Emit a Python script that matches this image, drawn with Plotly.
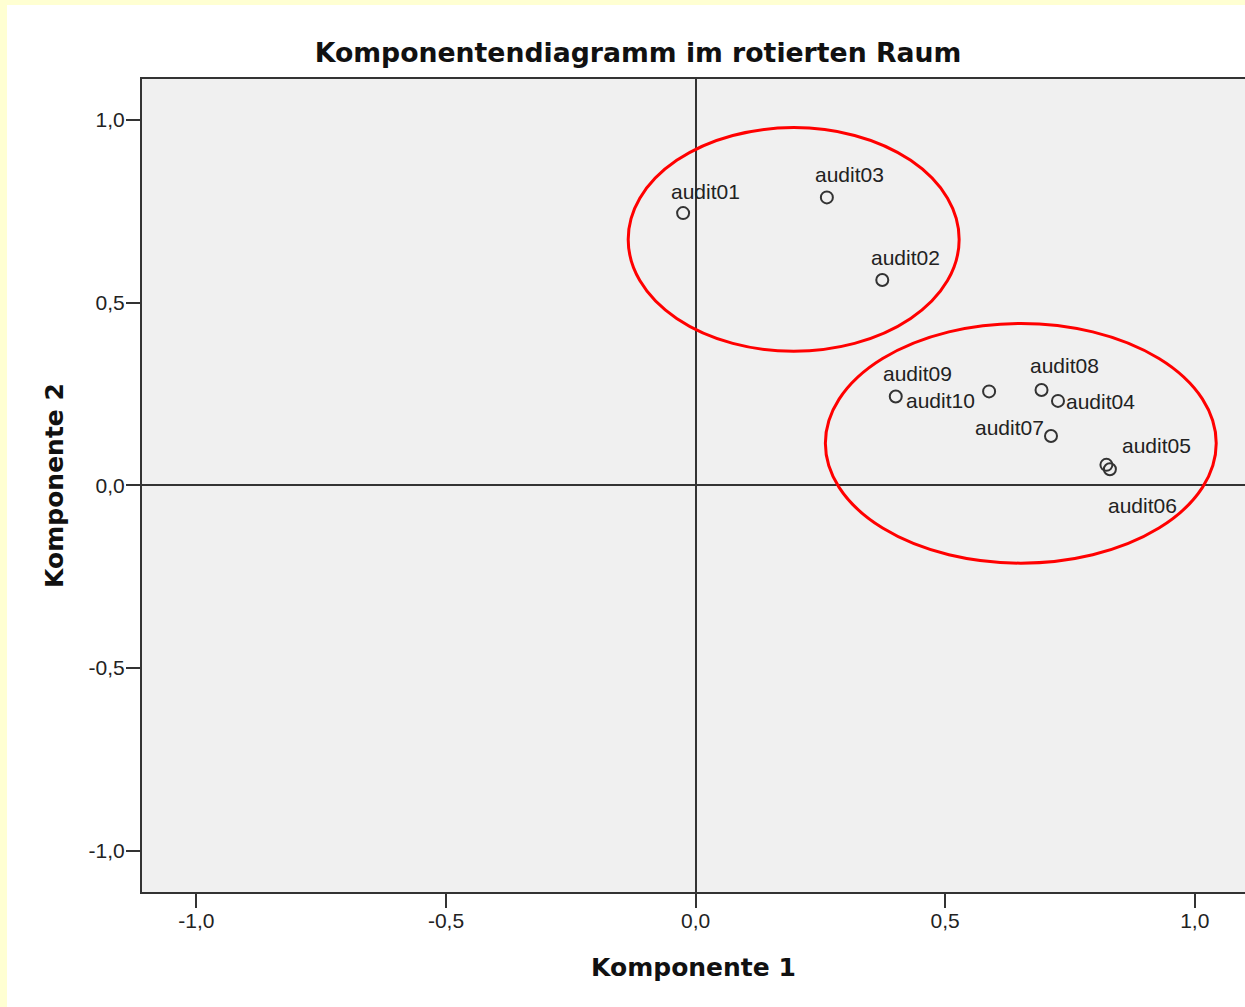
import plotly.graph_objects as go

# ---- data ----
labels = ["audit01", "audit02", "audit03", "audit04", "audit05",
          "audit06", "audit07", "audit08", "audit09", "audit10"]
komp1 = [-0.025, 0.374, 0.263, 0.726, 0.823, 0.830, 0.712, 0.693, 0.401, 0.588]
komp2 = [0.745, 0.562, 0.788, 0.231, 0.056, 0.044, 0.135, 0.261, 0.243, 0.257]
tick_vals = [-1.0, -0.5, 0.0, 0.5, 1.0]
tick_text = ["-1,0", "-0,5", "0,0", "0,5", "1,0"]

# label offsets in pixels (dx right, dy up)
label_offsets = {
    "audit01": (22, 22), "audit02": (23, 22), "audit03": (23, 23),
    "audit04": (43, -1), "audit05": (50, 19), "audit06": (33, -36),
    "audit07": (-42, 8), "audit08": (23, 24), "audit09": (22, 23),
    "audit10": (-49, -9),
}

# hand-drawn red ellipses (x0, x1, y0, y1 in data units)
ellipses = [(-0.135, 0.528, 0.367, 0.979), (0.260, 1.043, -0.213, 0.443)]

W, H = 1245, 1007
L, R, T, B = 142, 0, 79, 115
pw, ph = W - L - R, H - T - B

def px2paper_x(px):
    return (px - L) / pw

def px2paper_y(py):
    return (H - B - py) / ph

fig = go.Figure()
fig.add_trace(go.Scatter(
    x=komp1, y=komp2, mode="markers", text=labels,
    marker=dict(symbol="circle-open", size=12, color="#333333",
                line=dict(width=2, color="#333333")),
    hoverinfo="text+x+y", showlegend=False,
))

for lab, xv, yv in zip(labels, komp1, komp2):
    dx, dy = label_offsets[lab]
    fig.add_annotation(x=xv, y=yv, text=lab, showarrow=False,
                       xshift=dx, yshift=dy, xanchor="center", yanchor="middle",
                       font=dict(family="Liberation Sans, Arial", size=21, color="#222222"))

shapes = [
    # white chart area over yellow frame
    dict(type="rect", xref="paper", yref="paper", layer="below",
         x0=px2paper_x(7), x1=px2paper_x(W + 20), y0=px2paper_y(H + 20), y1=px2paper_y(5),
         fillcolor="#FFFFFF", line=dict(width=0)),
    # plot background
    dict(type="rect", xref="paper", yref="paper", layer="below",
         x0=0, x1=1, y0=0, y1=1, fillcolor="#F0F0F0", line=dict(width=0)),
]
for (x0, x1, y0, y1) in ellipses:
    shapes.append(dict(type="circle", xref="x", yref="y", x0=x0, x1=x1, y0=y0, y1=y1,
                       line=dict(color="#FF0000", width=3), layer="above"))

fig.update_layout(
    width=W, height=H,
    margin=dict(l=L, r=R, t=T, b=B, pad=0),
    paper_bgcolor="#FFFFD2",
    plot_bgcolor="rgba(0,0,0,0)",
    shapes=shapes,
    title=dict(text="Komponentendiagramm im rotierten Raum",
               x=px2paper_x(638), xref="paper", xanchor="center",
               y=1 - 53 / H, yref="container", yanchor="middle",
               font=dict(family="DejaVu Sans", size=26.7, color="#111111", weight="bold")),
    font=dict(family="Liberation Sans, Arial", color="#222222"),
)

axis_common = dict(
    showgrid=False, zeroline=True, zerolinecolor="#333333", zerolinewidth=2,
    showline=True, linecolor="#333333", linewidth=2,
    ticks="outside", ticklen=14, tickwidth=2, tickcolor="#333333",
    tickvals=tick_vals, ticktext=tick_text,
    tickfont=dict(family="Liberation Sans, Arial", size=21, color="#222222"),
)

fig.update_xaxes(range=[-1.109, (W - R - 696) / 498.8], mirror=True, ticklabelstandoff=-5,
                 **axis_common,
                 title=dict(text="Komponente 1", standoff=27,
                            font=dict(family="DejaVu Sans", size=25, color="#111111", weight="bold")))
fig.update_yaxes(range=[-1.113, 1.112], mirror=False, ticklabelstandoff=-3,
                 **axis_common,
                 title=dict(text="Komponente 2", standoff=18,
                            font=dict(family="DejaVu Sans", size=25, color="#111111", weight="bold")))

fig.write_html("out.html", config={"displayModeBar": False},
               post_script="document.body.style.margin='0';document.body.style.background='#FFFFD2';")
